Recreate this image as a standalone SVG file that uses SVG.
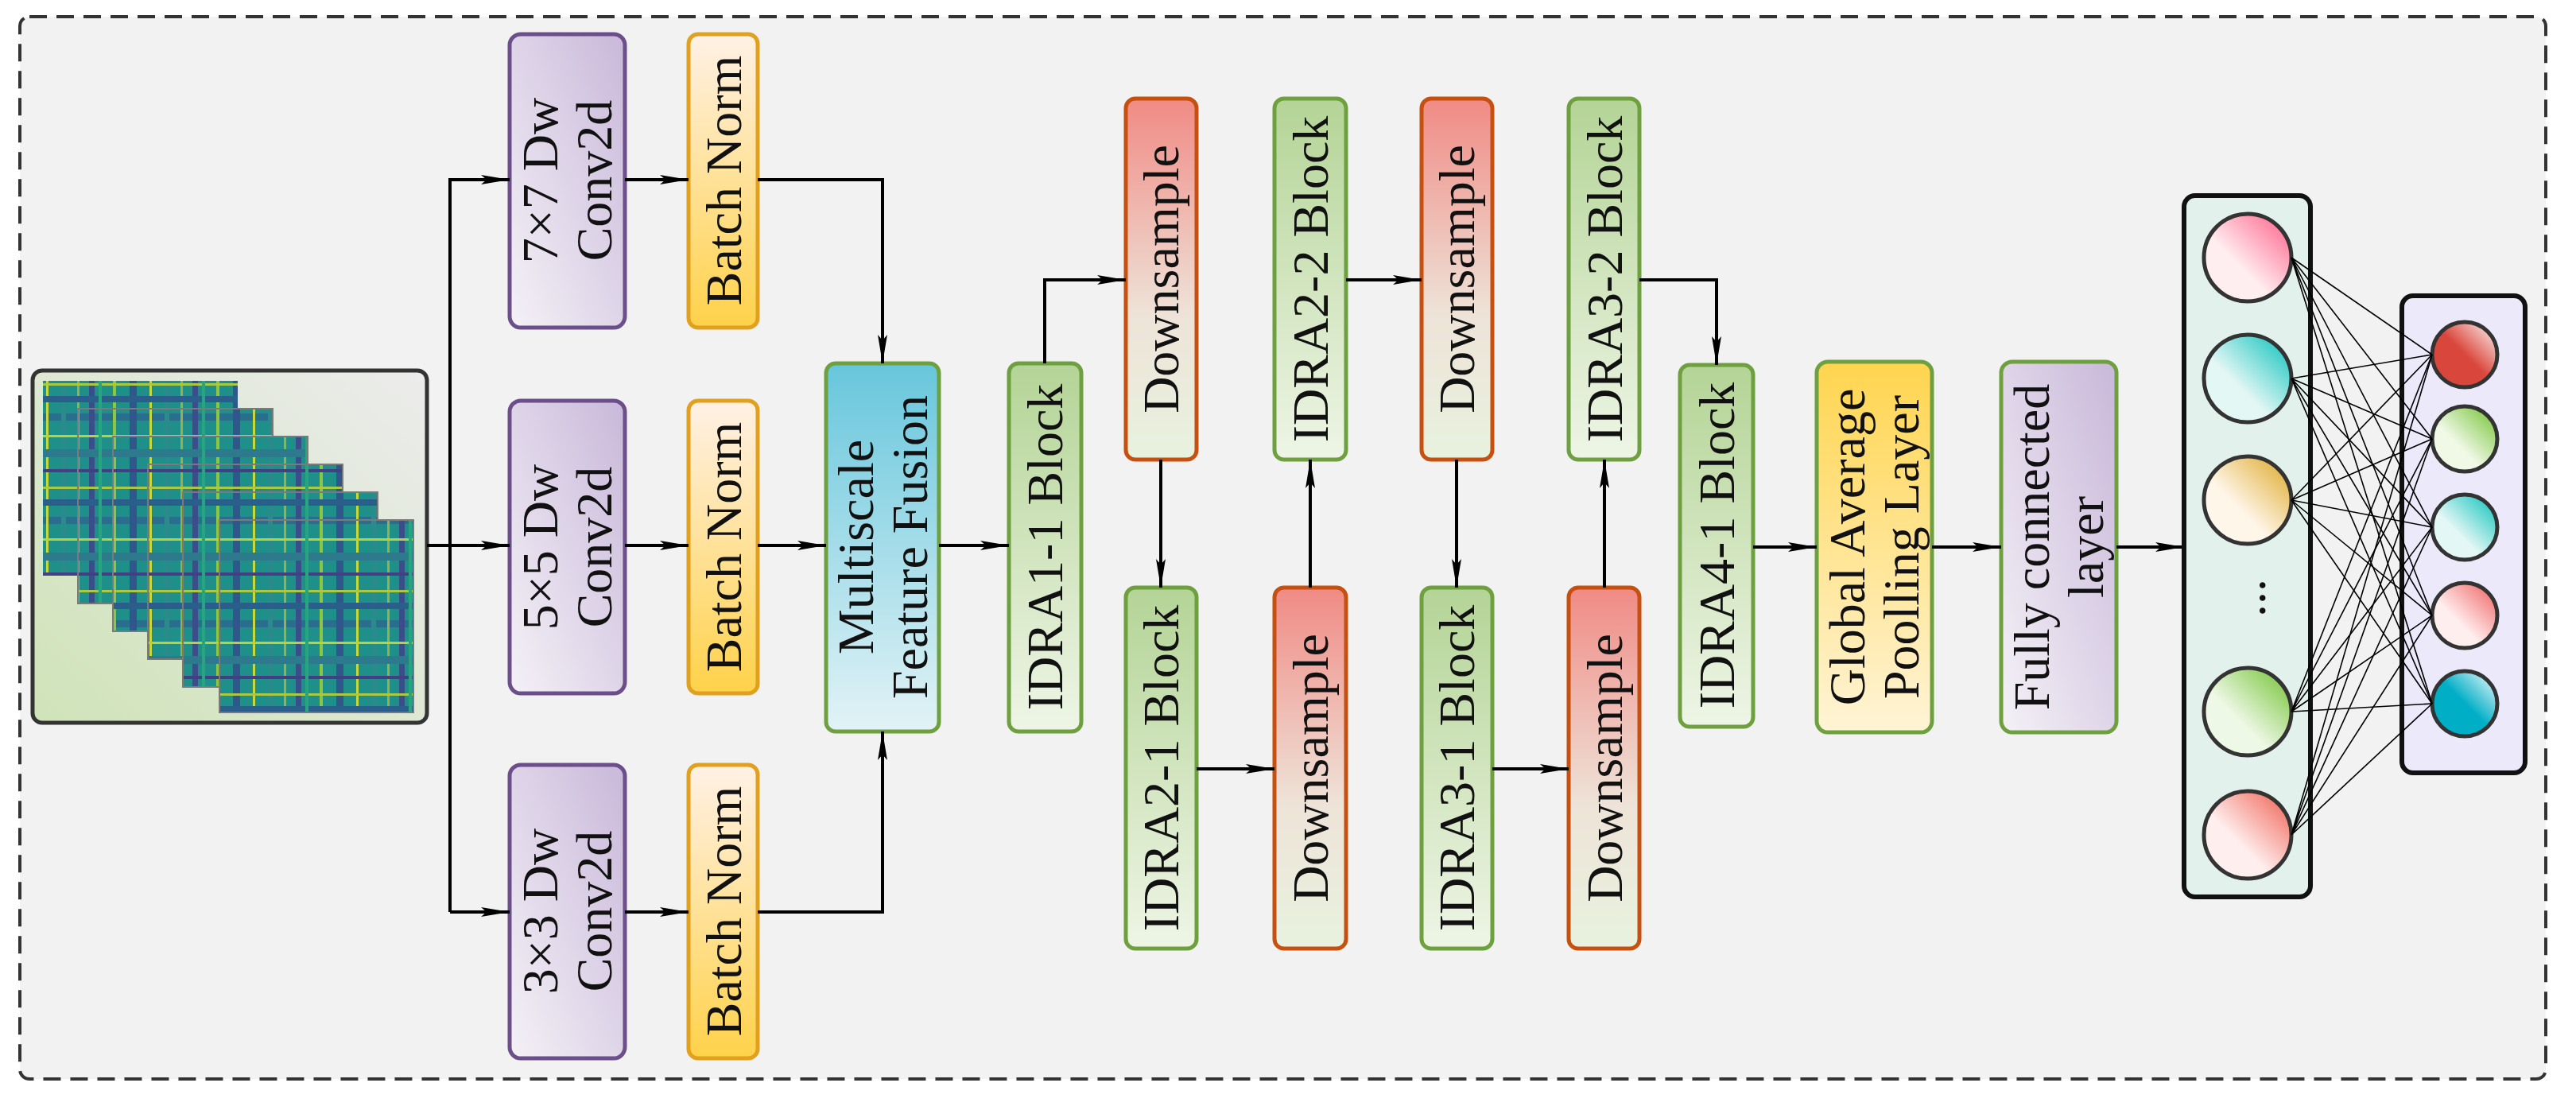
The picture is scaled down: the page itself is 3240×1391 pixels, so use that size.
<svg xmlns="http://www.w3.org/2000/svg" width="3240" height="1391" viewBox="0 0 3240 1391">
<defs>
<marker id="ah" viewBox="0 0 36 14" refX="36" refY="7" markerWidth="36" markerHeight="14" markerUnits="userSpaceOnUse" orient="auto"><path d="M0,1 L36,7 L0,13 L7,7 Z" fill="#000"/></marker>
<linearGradient id="gConv" x1="1" y1="0" x2="0" y2="1"><stop offset="0" stop-color="#c9b8da"/><stop offset="1" stop-color="#f4f1f6"/></linearGradient>
<linearGradient id="gBN" x1="0" y1="0" x2="0" y2="1"><stop offset="0" stop-color="#fff1e6"/><stop offset="1" stop-color="#ffd24a"/></linearGradient>
<linearGradient id="gMFF" x1="0" y1="0" x2="0" y2="1"><stop offset="0" stop-color="#67c6dc"/><stop offset="1" stop-color="#e2f3f6"/></linearGradient>
<linearGradient id="gG" x1="0" y1="0" x2="0" y2="1"><stop offset="0" stop-color="#b4d496"/><stop offset="1" stop-color="#eef5e6"/></linearGradient>
<linearGradient id="gD" x1="0" y1="0" x2="0" y2="1"><stop offset="0" stop-color="#f08a84"/><stop offset="0.6" stop-color="#eee3d8"/><stop offset="1" stop-color="#e8f2df"/></linearGradient>
<linearGradient id="gGAP" x1="0" y1="0" x2="0" y2="1"><stop offset="0" stop-color="#ffd54f"/><stop offset="1" stop-color="#fff4d6"/></linearGradient>
<linearGradient id="gIn" x1="0" y1="1" x2="1" y2="0"><stop offset="0" stop-color="#cfe3b8"/><stop offset="1" stop-color="#ececec"/></linearGradient>
<linearGradient id="c1" x1="1" y1="0" x2="0" y2="1"><stop offset="0" stop-color="#ff5b85"/><stop offset="0.6" stop-color="#ffeef0"/></linearGradient>
<linearGradient id="c2" x1="1" y1="0" x2="0" y2="1"><stop offset="0" stop-color="#00bfb8"/><stop offset="0.6" stop-color="#e3f7f5"/></linearGradient>
<linearGradient id="c3" x1="1" y1="0" x2="0" y2="1"><stop offset="0" stop-color="#dca51e"/><stop offset="0.6" stop-color="#fff6ea"/></linearGradient>
<linearGradient id="c4" x1="1" y1="0" x2="0" y2="1"><stop offset="0" stop-color="#6cc02a"/><stop offset="0.6" stop-color="#eef8e6"/></linearGradient>
<linearGradient id="c5" x1="1" y1="0" x2="0" y2="1"><stop offset="0" stop-color="#ee5a4a"/><stop offset="0.6" stop-color="#ffeeee"/></linearGradient>
<linearGradient id="s1" x1="1" y1="0" x2="0" y2="1"><stop offset="0" stop-color="#ffffff"/><stop offset="0.5" stop-color="#d9463c"/></linearGradient>
<linearGradient id="s2" x1="1" y1="0" x2="0" y2="1"><stop offset="0" stop-color="#6cc02a"/><stop offset="0.6" stop-color="#f0f8e6"/></linearGradient>
<linearGradient id="s3" x1="1" y1="0" x2="0" y2="1"><stop offset="0" stop-color="#00bfb8"/><stop offset="0.6" stop-color="#e3f7f5"/></linearGradient>
<linearGradient id="s4" x1="1" y1="0" x2="0" y2="1"><stop offset="0" stop-color="#ee5a5a"/><stop offset="0.6" stop-color="#ffeeee"/></linearGradient>
<linearGradient id="s5" x1="1" y1="0" x2="0" y2="1"><stop offset="0" stop-color="#ffffff"/><stop offset="0.5" stop-color="#00aec6"/></linearGradient>
<pattern id="hm" width="130" height="130" patternUnits="userSpaceOnUse">
<rect width="130" height="130" fill="#1f8f8a"/>
<rect x="0" y="0" width="130" height="9" fill="#2a6e8e"/>
<rect x="12" y="0" width="4" height="130" fill="#8fc640"/>
<rect x="33" y="0" width="9" height="130" fill="#31568c"/>
<rect x="58" y="0" width="3" height="130" fill="#c7d83a"/>
<rect x="77" y="0" width="6" height="130" fill="#2b8a8c"/>
<rect x="97" y="0" width="3" height="130" fill="#98b04a"/>
<rect x="112" y="0" width="7" height="130" fill="#3a4f8a"/>
<rect x="0" y="27" width="130" height="3" fill="#b9d23c"/>
<rect x="0" y="45" width="130" height="10" fill="#2c7a8c"/>
<rect x="0" y="70" width="130" height="4" fill="#433f84"/>
<rect x="0" y="92" width="130" height="3" fill="#a9c844"/>
<rect x="0" y="108" width="130" height="8" fill="#2a5f8c"/>
<rect x="124" y="0" width="4" height="130" fill="#26a57e"/>
</pattern>
</defs>
<style>
.t{font-family:"Liberation Serif","Times New Roman",serif;font-size:64px;fill:#111;text-anchor:middle;dominant-baseline:central}
.c{fill:none;stroke:#000;stroke-width:4}
.n{stroke:#000;stroke-width:1.6}
</style>
<rect x="25" y="21" width="3177" height="1336" rx="12" fill="#f2f2f2" stroke="#333" stroke-width="4" stroke-dasharray="22,12"/>

<g id="input">
<rect x="41" y="466" width="496" height="443" rx="12" fill="url(#gIn)" stroke="#333" stroke-width="5"/>
<rect x="54" y="479" width="245" height="245" fill="url(#hm)"/>
<rect x="98" y="514" width="245" height="245" fill="url(#hm)" stroke="#7a7a7a" stroke-width="2"/>
<rect x="142" y="549" width="245" height="245" fill="url(#hm)" stroke="#7a7a7a" stroke-width="2"/>
<rect x="186" y="584" width="245" height="245" fill="url(#hm)" stroke="#7a7a7a" stroke-width="2"/>
<rect x="230" y="619" width="245" height="245" fill="url(#hm)" stroke="#7a7a7a" stroke-width="2"/>
<rect x="276" y="654" width="244" height="242" fill="url(#hm)" stroke="#7a7a7a" stroke-width="2"/>
</g>

<g id="conv7"><rect x="641" y="43" width="145" height="369" rx="14" fill="url(#gConv)" stroke="#6b4e8a" stroke-width="5"/><text class="t" transform="translate(713,227) rotate(-90)"><tspan x="0" dy="-34">7×7 Dw</tspan><tspan x="0" dy="68">Conv2d</tspan></text></g>
<g id="conv5"><rect x="641" y="504" width="145" height="368" rx="14" fill="url(#gConv)" stroke="#6b4e8a" stroke-width="5"/><text class="t" transform="translate(713,688) rotate(-90)"><tspan x="0" dy="-34">5×5 Dw</tspan><tspan x="0" dy="68">Conv2d</tspan></text></g>
<g id="conv3"><rect x="641" y="962" width="145" height="369" rx="14" fill="url(#gConv)" stroke="#6b4e8a" stroke-width="5"/><text class="t" transform="translate(713,1146) rotate(-90)"><tspan x="0" dy="-34">3×3 Dw</tspan><tspan x="0" dy="68">Conv2d</tspan></text></g>
<g id="bn7"><rect x="866" y="43" width="87" height="369" rx="12" fill="url(#gBN)" stroke="#e0a020" stroke-width="5"/><text class="t" transform="translate(910,227) rotate(-90)">Batch Norm</text></g>
<g id="bn5"><rect x="866" y="504" width="87" height="368" rx="12" fill="url(#gBN)" stroke="#e0a020" stroke-width="5"/><text class="t" transform="translate(910,688) rotate(-90)">Batch Norm</text></g>
<g id="bn3"><rect x="866" y="962" width="87" height="369" rx="12" fill="url(#gBN)" stroke="#e0a020" stroke-width="5"/><text class="t" transform="translate(910,1146) rotate(-90)">Batch Norm</text></g>
<g id="mff"><rect x="1039" y="457" width="142" height="463" rx="12" fill="url(#gMFF)" stroke="#6ea040" stroke-width="5"/><text class="t" transform="translate(1110,688) rotate(-90)"><tspan x="0" dy="-34">Multiscale</tspan><tspan x="0" dy="68">Feature Fusion</tspan></text></g>

<g id="idra11"><rect x="1269" y="457" width="91" height="463" rx="12" fill="url(#gG)" stroke="#6ea040" stroke-width="5"/><text class="t" transform="translate(1314,688) rotate(-90)">IDRA1-1 Block</text></g>
<g id="ds1"><rect x="1416" y="124" width="89" height="454" rx="12" fill="url(#gD)" stroke="#c55010" stroke-width="5"/><text class="t" transform="translate(1460,351) rotate(-90)">Downsample</text></g>
<g id="idra21"><rect x="1416" y="739" width="89" height="454" rx="12" fill="url(#gG)" stroke="#6ea040" stroke-width="5"/><text class="t" transform="translate(1460,966) rotate(-90)">IDRA2-1 Block</text></g>
<g id="idra22"><rect x="1603" y="124" width="90" height="454" rx="12" fill="url(#gG)" stroke="#6ea040" stroke-width="5"/><text class="t" transform="translate(1648,351) rotate(-90)">IDRA2-2 Block</text></g>
<g id="ds2"><rect x="1603" y="739" width="90" height="454" rx="12" fill="url(#gD)" stroke="#c55010" stroke-width="5"/><text class="t" transform="translate(1648,966) rotate(-90)">Downsample</text></g>
<g id="ds3"><rect x="1788" y="124" width="89" height="454" rx="12" fill="url(#gD)" stroke="#c55010" stroke-width="5"/><text class="t" transform="translate(1832,351) rotate(-90)">Downsample</text></g>
<g id="idra31"><rect x="1788" y="739" width="89" height="454" rx="12" fill="url(#gG)" stroke="#6ea040" stroke-width="5"/><text class="t" transform="translate(1832,966) rotate(-90)">IDRA3-1 Block</text></g>
<g id="idra32"><rect x="1973" y="124" width="89" height="454" rx="12" fill="url(#gG)" stroke="#6ea040" stroke-width="5"/><text class="t" transform="translate(2018,351) rotate(-90)">IDRA3-2 Block</text></g>
<g id="ds4"><rect x="1973" y="739" width="89" height="454" rx="12" fill="url(#gD)" stroke="#c55010" stroke-width="5"/><text class="t" transform="translate(2018,966) rotate(-90)">Downsample</text></g>
<g id="idra41"><rect x="2113" y="459" width="92" height="455" rx="12" fill="url(#gG)" stroke="#6ea040" stroke-width="5"/><text class="t" transform="translate(2159,686) rotate(-90)">IDRA4-1 Block</text></g>
<g id="gap"><rect x="2285" y="455" width="145" height="466" rx="14" fill="url(#gGAP)" stroke="#6ea040" stroke-width="5"/><text class="t" transform="translate(2357,688) rotate(-90)"><tspan x="0" dy="-34">Global Average</tspan><tspan x="0" dy="68">Poolling Layer</tspan></text></g>
<g id="fc"><rect x="2517" y="455" width="145" height="466" rx="14" fill="url(#gConv)" stroke="#6ea040" stroke-width="5"/><text class="t" transform="translate(2589,688) rotate(-90)"><tspan x="0" dy="-34">Fully connected</tspan><tspan x="0" dy="68">layer</tspan></text></g>

<g id="connectors">
<path class="c" d="M537,686 H641" marker-end="url(#ah)"/>
<path class="c" d="M566,1147 V226 H641" marker-end="url(#ah)"/>
<path class="c" d="M566,1147 H641" marker-end="url(#ah)"/>
<path class="c" d="M786,226 H866" marker-end="url(#ah)"/>
<path class="c" d="M786,686 H866" marker-end="url(#ah)"/>
<path class="c" d="M786,1147 H866" marker-end="url(#ah)"/>
<path class="c" d="M953,226 H1110 V457" marker-end="url(#ah)"/>
<path class="c" d="M953,686 H1039" marker-end="url(#ah)"/>
<path class="c" d="M953,1147 H1110 V920" marker-end="url(#ah)"/>
<path class="c" d="M1181,686 H1269" marker-end="url(#ah)"/>
<path class="c" d="M1314,457 V352 H1416" marker-end="url(#ah)"/>
<path class="c" d="M1460,578 V739" marker-end="url(#ah)"/>
<path class="c" d="M1505,967 H1603" marker-end="url(#ah)"/>
<path class="c" d="M1648,739 V578" marker-end="url(#ah)"/>
<path class="c" d="M1693,352 H1788" marker-end="url(#ah)"/>
<path class="c" d="M1832,578 V739" marker-end="url(#ah)"/>
<path class="c" d="M1877,967 H1973" marker-end="url(#ah)"/>
<path class="c" d="M2018,739 V578" marker-end="url(#ah)"/>
<path class="c" d="M2062,352 H2159 V459" marker-end="url(#ah)"/>
<path class="c" d="M2205,688 H2285" marker-end="url(#ah)"/>
<path class="c" d="M2430,688 H2517" marker-end="url(#ah)"/>
<path class="c" d="M2662,688 H2747" marker-end="url(#ah)"/>
</g>

<g id="hidden">
<rect x="2747" y="246" width="159" height="882" rx="14" fill="#e3f1ec" stroke="#111" stroke-width="6"/>
<circle cx="2827" cy="324" r="55" fill="url(#c1)" stroke="#333" stroke-width="5"/>
<circle cx="2827" cy="476" r="55" fill="url(#c2)" stroke="#333" stroke-width="5"/>
<circle cx="2827" cy="629" r="55" fill="url(#c3)" stroke="#333" stroke-width="5"/>
<text class="t" transform="translate(2827,752) rotate(-90)">...</text>
<circle cx="2827" cy="895" r="55" fill="url(#c4)" stroke="#333" stroke-width="5"/>
<circle cx="2827" cy="1050" r="55" fill="url(#c5)" stroke="#333" stroke-width="5"/>
</g>
<g id="output">
<rect x="3021" y="372" width="155" height="600" rx="14" fill="#ece9fb" stroke="#111" stroke-width="6"/>
<circle cx="3100" cy="446" r="41" fill="url(#s1)" stroke="#333" stroke-width="5"/>
<circle cx="3100" cy="552" r="41" fill="url(#s2)" stroke="#333" stroke-width="5"/>
<circle cx="3100" cy="663" r="41" fill="url(#s3)" stroke="#333" stroke-width="5"/>
<circle cx="3100" cy="774" r="41" fill="url(#s4)" stroke="#333" stroke-width="5"/>
<circle cx="3100" cy="885" r="41" fill="url(#s5)" stroke="#333" stroke-width="5"/>
</g>
<g id="fc-links" class="n">
<path d="M2882,324 L3059,446 M2882,324 L3059,552 M2882,324 L3059,663 M2882,324 L3059,774 M2882,324 L3059,885"/>
<path d="M2882,476 L3059,446 M2882,476 L3059,552 M2882,476 L3059,663 M2882,476 L3059,774 M2882,476 L3059,885"/>
<path d="M2882,629 L3059,446 M2882,629 L3059,552 M2882,629 L3059,663 M2882,629 L3059,774 M2882,629 L3059,885"/>
<path d="M2882,895 L3059,446 M2882,895 L3059,552 M2882,895 L3059,663 M2882,895 L3059,774 M2882,895 L3059,885"/>
<path d="M2882,1050 L3059,446 M2882,1050 L3059,552 M2882,1050 L3059,663 M2882,1050 L3059,774 M2882,1050 L3059,885"/>
</g>
</svg>
